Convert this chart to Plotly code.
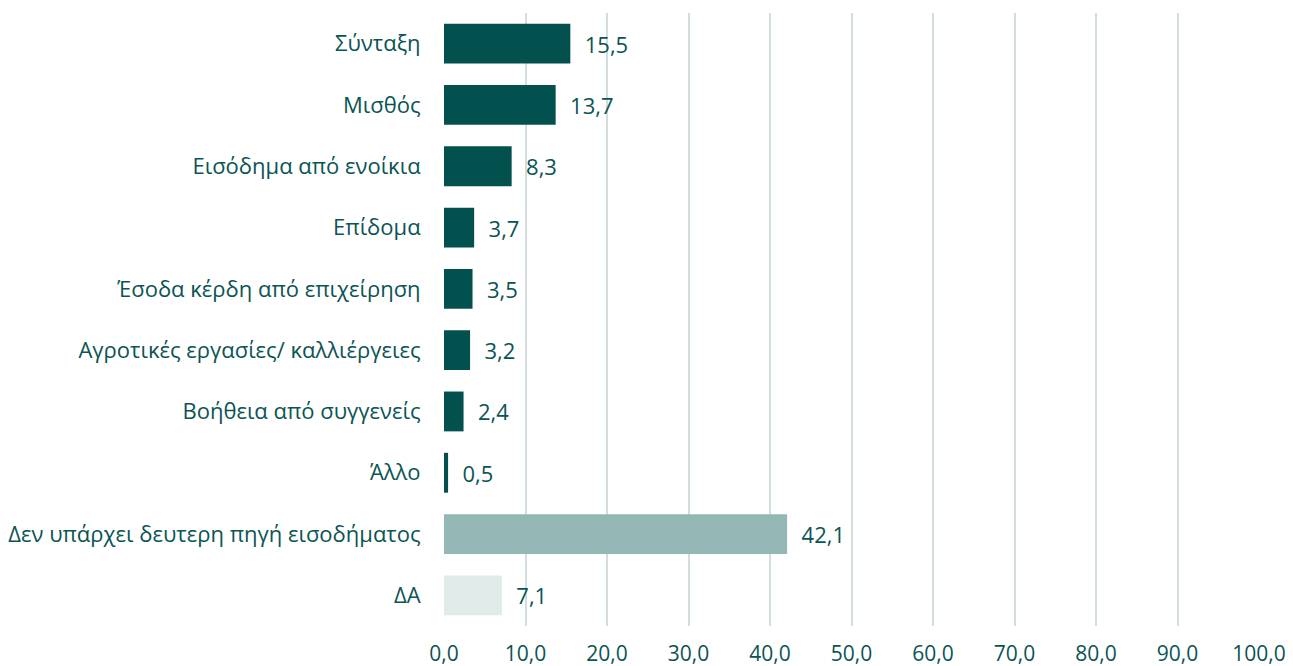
import plotly.graph_objects as go

categories = ["Σύνταξη", "Μισθός", "Εισόδημα από ενοίκια", "Επίδομα",
              "Έσοδα κέρδη από επιχείρηση", "Αγροτικές εργασίες/ καλλιέργειες",
              "Βοήθεια από συγγενείς", "Άλλο",
              "Δεν υπάρχει δευτερη πηγή εισοδήματος", "ΔΑ"]
values = [15.5, 13.7, 8.3, 3.7, 3.5, 3.2, 2.4, 0.5, 42.1, 7.1]
bar_colors = ["#03514F"] * 8 + ["#93B8B6", "#E1EBEA"]
tick_vals = [0, 10, 20, 30, 40, 50, 60, 70, 80, 90, 100]

text_color = "#0B5454"
font_family = "'Open Sans', Lato, sans-serif"

fig = go.Figure(go.Bar(
    x=values, y=categories, orientation="h",
    marker=dict(color=bar_colors, line=dict(width=0)),
    text=["  " + f"{v:.1f}".replace(".", ",") for v in values],
    textposition="outside",
    textfont=dict(size=22, color=text_color, family=font_family),
    cliponaxis=False,
))

fig.update_layout(
    width=1293, height=666,
    margin=dict(l=444, r=34, t=13, b=40, autoexpand=False),
    paper_bgcolor="white", plot_bgcolor="white",
    separators=",.",
    bargap=0.35,
    showlegend=False,
    font=dict(family=font_family, size=22, color=text_color),
    xaxis=dict(range=[0, 100], tickvals=tick_vals, tickformat=".1f",
               showgrid=True, gridcolor="#D3DDE0", gridwidth=2,
               zeroline=False, showline=False, automargin=False,
               ticks="outside", ticklen=9, tickcolor="rgba(0,0,0,0)",
               tickfont=dict(size=21, color=text_color)),
    yaxis=dict(autorange="reversed", showgrid=False, zeroline=False,
               automargin=False,
               ticks="outside", ticklen=18, tickcolor="rgba(0,0,0,0)",
               tickfont=dict(size=22, color=text_color)),
)

fig.write_html(
    "out.html",
    config={"displayModeBar": False},
    post_script="document.body.style.margin='0';document.body.style.overflow='hidden';",
)
